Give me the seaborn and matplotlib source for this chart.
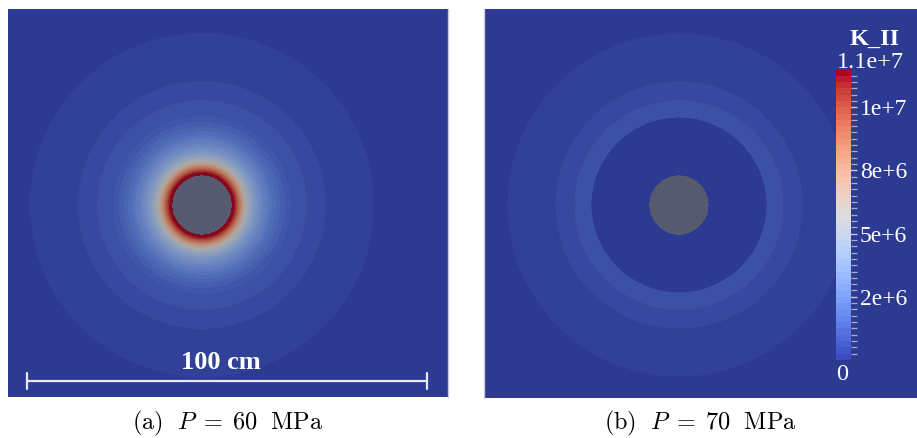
import numpy as np
import matplotlib
matplotlib.use("Agg")
import matplotlib.pyplot as plt
import seaborn as sns
from matplotlib.colors import ListedColormap, BoundaryNorm
from matplotlib.cm import ScalarMappable

sns.set_theme(style="white")
plt.rcParams["mathtext.fontset"] = "cm"
plt.rcParams["font.family"] = ["Liberation Serif", "DejaVu Serif"]

# ---- data -------------------------------------------------------------
k_min, k_max, n_bands = 0.0, 1.1e7, 46
hole_radius_cm = 7.5

# (a) P = 60 MPa : radial K_II profile (r in cm, K_II)
prof_a_r = [7.5, 8.0, 8.75, 9.5, 10.5, 11.5, 13.0, 15.0, 17.5, 20.0,
            22.0, 26.0, 30.75, 42.75, 60.0, 80.0]
prof_a_k = [1.095e7, 1.07e7, 9.2e6, 7.8e6, 6.0e6, 4.8e6, 3.6e6, 2.7e6,
            1.85e6, 1.3e6, 0.96e6, 0.72e6, 0.48e6, 0.24e6, 0.12e6, 0.06e6]

# (b) P = 70 MPa : piecewise-constant rings (edges in cm, K_II per ring)
ring_b_edges = [22.0, 26.0, 30.75, 42.75]
ring_b_k = [0.1e6, 0.85e6, 0.6e6, 0.35e6, 0.1e6]

# visible window of each panel (cm, hole centre at 0,0)
extent_a = (-48.5, 61.5, -48.0, 49.0)
extent_b = (-48.75, 59.5, -48.25, 49.0)

scale_len_cm = 100.0
scale_x0_cm, scale_y_cm = -43.75, -43.9

cbar_tick_idx = [10, 20, 30, 40]
cbar_tick_labels = ["2e+6", "5e+6", "8e+6", "1e+7"]
captions = [r"$\mathrm{(a)}\ \ P\;=\;60\ \ \mathrm{MPa}$",
            r"$\mathrm{(b)}\ \ P\;=\;70\ \ \mathrm{MPa}$"]

# ---- colour maps ------------------------------------------------------
levels = np.linspace(k_min, k_max, n_bands + 1)
base = sns.color_palette("coolwarm", as_cmap=True)
band_cols = base(np.linspace(0, 1, n_bands))[:, :3]
bar_cmap = ListedColormap(band_cols)
field_cmap = ListedColormap(np.clip(band_cols * 0.76, 0, 1))
norm = BoundaryNorm(levels, n_bands)

serif = ["Liberation Serif", "DejaVu Serif"]
hole_color = "#565a6e"
W, H = 917, 438
fig = plt.figure(figsize=(W / 100, H / 100), dpi=100)
fig.patch.set_facecolor("white")


def field_axes(px_left, px_top, px_right, px_bottom):
    ax = fig.add_axes([px_left / W, 1 - px_bottom / H,
                       (px_right - px_left) / W, (px_bottom - px_top) / H])
    ax.set_facecolor(hole_color)
    ax.set_xticks([])
    ax.set_yticks([])
    for s in ax.spines.values():
        s.set_visible(False)
    return ax


def grid(ext):
    x = np.linspace(ext[0], ext[1], 1100)
    y = np.linspace(ext[2], ext[3], 980)
    X, Y = np.meshgrid(x, y)
    return X, Y, np.hypot(X, Y)


# panel (a)
ax_a = field_axes(8, 9, 448, 397)
Xa, Ya, Ra = grid(extent_a)
Ka = np.interp(Ra, prof_a_r, prof_a_k)
Ka = np.ma.masked_where(Ra < hole_radius_cm, Ka)
ax_a.contourf(Xa, Ya, Ka, levels=levels, cmap=field_cmap, norm=norm)
ax_a.set_xlim(extent_a[0], extent_a[1])
ax_a.set_ylim(extent_a[2], extent_a[3])
ax_a.spines["right"].set_visible(True)
ax_a.spines["right"].set_color("#c9cbe0")
ax_a.spines["right"].set_linewidth(1.0)

# scale bar
sx0, sx1 = scale_x0_cm, scale_x0_cm + scale_len_cm
ax_a.plot([sx0, sx1], [scale_y_cm, scale_y_cm], color="#e8e8f0", lw=1.6,
          solid_capstyle="butt")
for sx in (sx0, sx1):
    ax_a.plot([sx, sx], [scale_y_cm - 2.0, scale_y_cm + 2.0],
              color="#e8e8f0", lw=1.6)
ax_a.text(sx0 + scale_len_cm / 2 - 1.5, scale_y_cm + 1.6, "100 cm",
          color="white", fontsize=19, fontweight="bold", ha="center",
          va="bottom", family=serif)

# panel (b)
ax_b = field_axes(484, 9, 917, 398)
Xb, Yb, Rb = grid(extent_b)
Kb = np.asarray(ring_b_k)[np.digitize(Rb, ring_b_edges)]
Kb = np.ma.masked_where(Rb < hole_radius_cm, Kb)
ax_b.contourf(Xb, Yb, Kb, levels=levels, cmap=field_cmap, norm=norm)
ax_b.set_xlim(extent_b[0], extent_b[1])
ax_b.set_ylim(extent_b[2], extent_b[3])
ax_b.spines["left"].set_visible(True)
ax_b.spines["left"].set_color("#c9cbe0")
ax_b.spines["left"].set_linewidth(1.0)

# colour bar
cax = fig.add_axes([836 / W, 1 - 360 / H, 15 / W, 290.7 / H])
cb = fig.colorbar(ScalarMappable(norm=norm, cmap=bar_cmap), cax=cax)
cb.outline.set_visible(False)
cb.set_ticks([levels[i] for i in cbar_tick_idx], labels=cbar_tick_labels)
cb.ax.yaxis.set_ticks(levels[1:-1], minor=True)
cb.ax.tick_params(which="major", direction="inout", length=9, width=1.0,
                  color="#c8cadc", labelcolor="white", labelsize=17, pad=2)
cb.ax.tick_params(which="minor", direction="out", length=4, width=0.9,
                  color="#a8acc8")
for t in cb.ax.get_yticklabels():
    t.set_family(serif)

fig.text(875 / W, 1 - 39 / H, "K_II", color="white", fontsize=17.5,
         fontweight="bold", ha="center", va="center", family=serif)
fig.text(870 / W, 1 - 62 / H, "1.1e+7", color="white", fontsize=17.5,
         ha="center", va="center", family=serif)
fig.text(842 / W, 1 - 375 / H, "0", color="white", fontsize=17.5,
         ha="center", va="center", family=serif)

# captions
fig.text(228 / W, 1 - 429 / H, captions[0], fontsize=17.5, ha="center",
         va="baseline", color="black")
fig.text(700 / W, 1 - 429 / H, captions[1], fontsize=17.5, ha="center",
         va="baseline", color="black")

fig.savefig("out.png", dpi=100, facecolor="white")
